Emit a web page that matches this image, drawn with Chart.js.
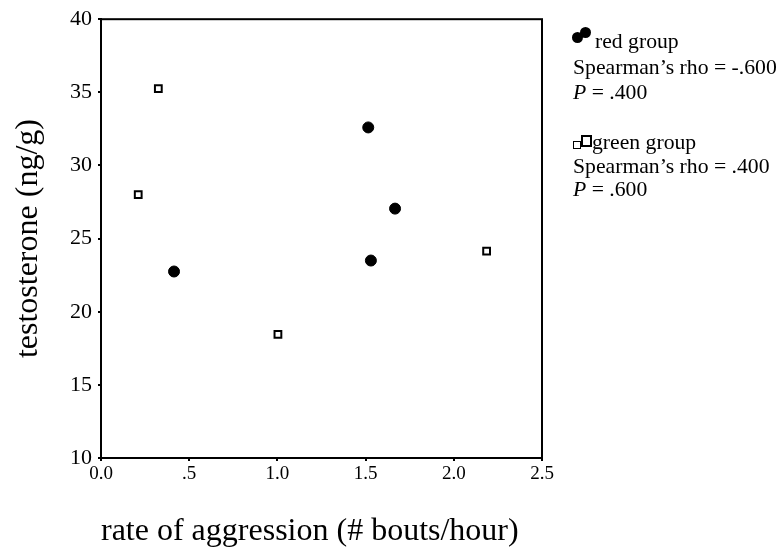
<!DOCTYPE html>
<html>
<head>
<meta charset="utf-8">
<script src="https://cdn.jsdelivr.net/npm/chart.js@4.4.0/dist/chart.umd.min.js"></script>
<style>
  body { margin: 0; background: #fff; }
  #wrap { position: relative; width: 783px; height: 558px; }
  .lg { position: absolute; font-family: "Liberation Serif", "Times New Roman", serif; font-size: 21.7px; line-height: 21px; color: #000; white-space: nowrap; }
  .dot { position: absolute; width: 11px; height: 11px; border-radius: 50%; background: #000; }
  .sq { position: absolute; box-sizing: border-box; border: 1.5px solid #000; background: #fff; }
</style>
</head>
<body>
<div id="wrap">
  <canvas id="chart" width="783" height="558"></canvas>

  <div class="dot" style="left:572px; top:32px;"></div>
  <div class="dot" style="left:580px; top:27px;"></div>
  <div class="lg" style="left:595px; top:31px;">red group</div>
  <div class="lg" style="left:573px; top:57px;">Spearman’s rho = -.600</div>
  <div class="lg" style="left:573px; top:82px;"><i>P</i> = .400</div>

  <div class="sq" style="left:573px; top:141px; width:8px; height:8px; border-width:1px;"></div>
  <div class="sq" style="left:581px; top:135px; width:11px; height:12px; border-width:2px;"></div>
  <div class="lg" style="left:592px; top:132px;">green group</div>
  <div class="lg" style="left:573px; top:156px;">Spearman’s rho = .400</div>
  <div class="lg" style="left:573px; top:179px;"><i>P</i> = .600</div>
</div>

<script>
const redX = [1.515, 1.667, 1.53, 0.414];
const redY = [32.6, 27.05, 23.5, 22.75];
const greenX = [0.325, 0.211, 2.186, 1.003];
const greenY = [35.25, 28.0, 24.15, 18.45];

const xTickLabels = ["0.0", ".5", "1.0", "1.5", "2.0", "2.5"];
const yTickLabels = ["10", "15", "20", "25", "30", "35", "40"];

const serif = "'Liberation Serif', 'Times New Roman', serif";

function toPoints(xs, ys) {
  return xs.map((x, i) => ({ x: x, y: ys[i] }));
}

// draws the top and right sides of the frame
const boxPlugin = {
  id: "box",
  afterDraw(chart) {
    const { ctx, chartArea } = chart;
    ctx.save();
    ctx.strokeStyle = "#000";
    ctx.lineWidth = 2;
    ctx.strokeRect(chartArea.left, chartArea.top, chartArea.right - chartArea.left, chartArea.bottom - chartArea.top);
    ctx.restore();
  },
};

const ctx = document.getElementById("chart").getContext("2d");
new Chart(ctx, {
  type: "scatter",
  data: {
    datasets: [
      {
        label: "red group",
        data: toPoints(redX, redY),
        pointStyle: "circle",
        pointRadius: 5.5,
        backgroundColor: "#000",
        borderColor: "#000",
        borderWidth: 1,
      },
      {
        label: "green group",
        data: toPoints(greenX, greenY),
        pointStyle: "rect",
        pointRadius: 4.8,
        backgroundColor: "#fff",
        borderColor: "#000",
        borderWidth: 2,
      },
    ],
  },
  options: {
    responsive: false,
    animation: false,
    layout: { padding: { top: 18, right: 241, bottom: 0, left: 0 } },
    plugins: {
      legend: { display: false },
      tooltip: { enabled: false },
    },
    scales: {
      x: {
        type: "linear",
        min: 0,
        max: 2.5,
        afterFit(scale) {
          scale.height = 100;
        },
        ticks: {
          stepSize: 0.5,
          color: "#000",
          font: { family: serif, size: 19 },
          padding: 2,
          maxRotation: 0,
          callback: (value, index) => xTickLabels[index],
        },
        grid: { display: true, drawOnChartArea: false, tickLength: 3, color: "#000", lineWidth: 2 },
        border: { color: "#000", width: 2 },
        title: {
          display: true,
          text: "rate of aggression (# bouts/hour)",
          align: "start",
          color: "#000",
          font: { family: serif, size: 32 },
          padding: { top: 0, bottom: 7 },
        },
      },
      y: {
        type: "linear",
        min: 10,
        max: 40,
        afterFit(scale) {
          scale.width = 101;
        },
        ticks: {
          stepSize: 5,
          color: "#000",
          font: { family: serif, size: 22 },
          padding: 6,
          callback: (value, index) => yTickLabels[index],
        },
        grid: { display: true, drawOnChartArea: false, tickLength: 3, color: "#000", lineWidth: 2 },
        border: { color: "#000", width: 2 },
        title: {
          display: true,
          text: "testosterone (ng/g)",
          color: "#000",
          font: { family: serif, size: 32 },
          padding: { top: 9, bottom: 0 },
        },
      },
    },
  },
  plugins: [boxPlugin],
});
</script>
</body>
</html>
